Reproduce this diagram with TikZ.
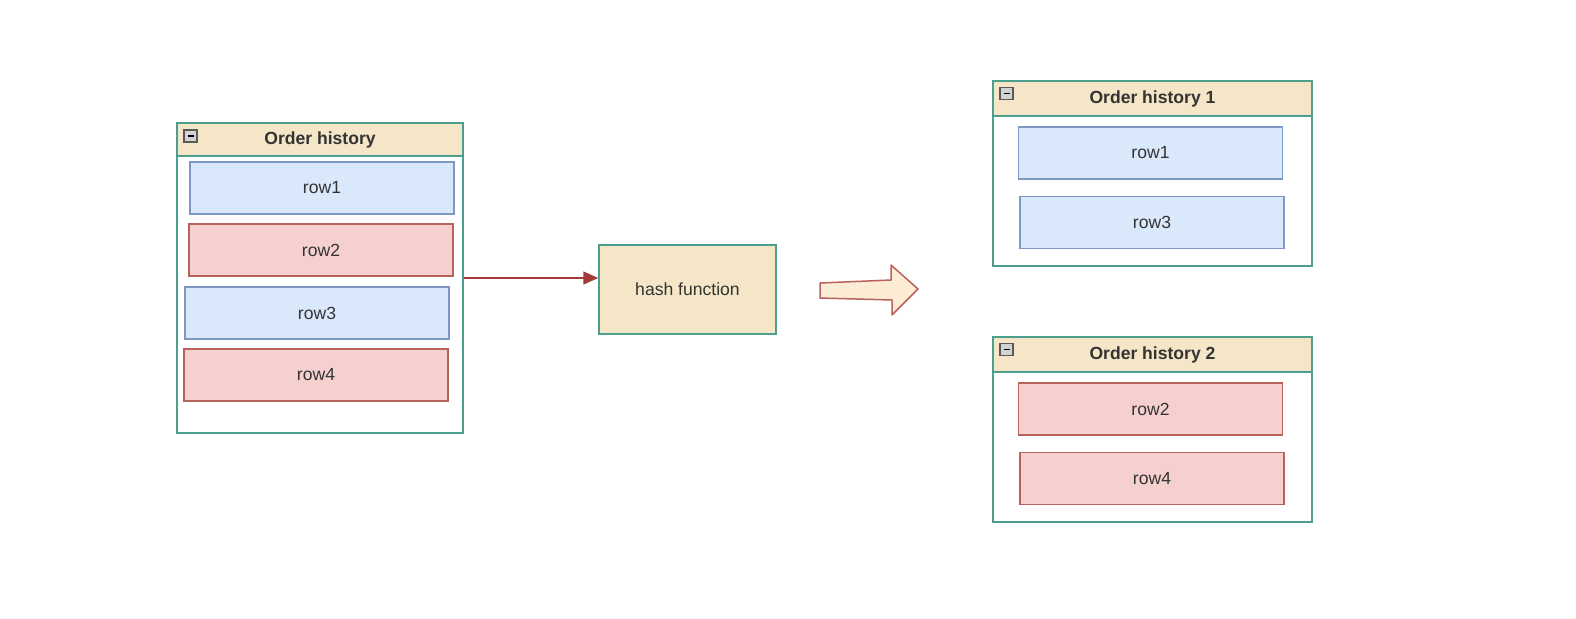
\documentclass[tikz,border=0pt]{standalone}
\usepackage{fontspec}
\setmainfont{Liberation Sans}
\usetikzlibrary{arrows.meta}

\definecolor{borde}{HTML}{4C9E8E}
\definecolor{cabecera}{HTML}{F5E6C8}
\definecolor{azul}{HTML}{DAE8FC}
\definecolor{azulborde}{HTML}{7E98C4}
\definecolor{rojo}{HTML}{F5D0CE}
\definecolor{rojoborde}{HTML}{B8625C}
\definecolor{flecha}{HTML}{A33A36}
\definecolor{crema}{HTML}{FCEBD5}
\definecolor{texto}{HTML}{333333}

\tikzset{
  caja/.style={draw=borde, line width=0.3mm, fill=white, inner sep=0pt},
  cabeza/.style={draw=borde, line width=0.3mm, fill=cabecera},
  fila/.style={line width=0.3mm, minimum width=52.8mm, minimum height=10.4mm,
    inner sep=0pt, text=texto, font=\fontsize{10}{12}\selectfont},
  filaazul/.style={fila, draw=azulborde, fill=azul},
  filaroja/.style={fila, draw=rojoborde, fill=rojo},
  titulo/.style={text=texto, font=\bfseries\fontsize{10}{12}\selectfont},
  menos/.style={draw=gray!70!black, fill=gray!35, line width=0.25mm}
}

\begin{document}
\begin{tikzpicture}[x=0.2mm, y=-0.2mm]

    \useasboundingbox (0,0) rectangle (1576,618);

% Tabla original
	\node[caja, minimum width=57.2mm, minimum height=62mm] (tabla) at (320,278) {};
	\draw[cabeza] (177,123) rectangle (463,156);
	\node[titulo] (titulo) at (320,139.5) {Order history};
	\draw[menos] (184,130) rectangle (197,142);
	\draw[line width=0.35mm] (187.5,136) -- (193.5,136);

	\foreach \x/\y/\n/\c in {322/188/1/azul, 321/250/2/roja, 317/313/3/azul, 316/375/4/roja}
		\node[fila\c] (fila\n) at (\x,\y) {row\n};

% Funcion hash
	\node[caja, fill=cabecera, minimum width=35.4mm, minimum height=17.8mm,
	      text=texto, font=\fontsize{10}{12}\selectfont] (hash) at (687.5,289.5) {hash function};

	\draw[flecha, line width=0.3mm, -{Triangle[length=3mm, width=2.6mm]}]
		(tabla.east) -- (tabla.east -| hash.west);

% Flecha gruesa
	\draw[draw=rojoborde, fill=crema, line width=0.3mm, line join=round]
		(820,283) -- (891,280) -- (891,265) -- (918,289) -- (892,315)
		-- (892,300) -- (820,298) -- cycle;

% Tablas particionadas
	\foreach \y/\k/\a/\b/\c in {173.5/1/1/3/azul, 429.5/2/2/4/roja}
	{
		\node[caja, minimum width=63.8mm, minimum height=37mm] (parte\k) at (1152.5,\y) {};
		\draw[cabeza] (993,\y-92.5) rectangle (1312,\y-57.5);
		\node[titulo] (titulo\k) at (1152.5,\y-75) {Order history \k};
		\draw[menos] (1000,\y-86) rectangle (1013,\y-74);
		\draw[line width=0.35mm] (1003.5,\y-80) -- (1009.5,\y-80);
		\node[fila\c] (fila\k a) at (1150.5,\y-20.5) {row\a};
		\node[fila\c] (fila\k b) at (1152,\y+49) {row\b};
	}

\end{tikzpicture}
\end{document}
